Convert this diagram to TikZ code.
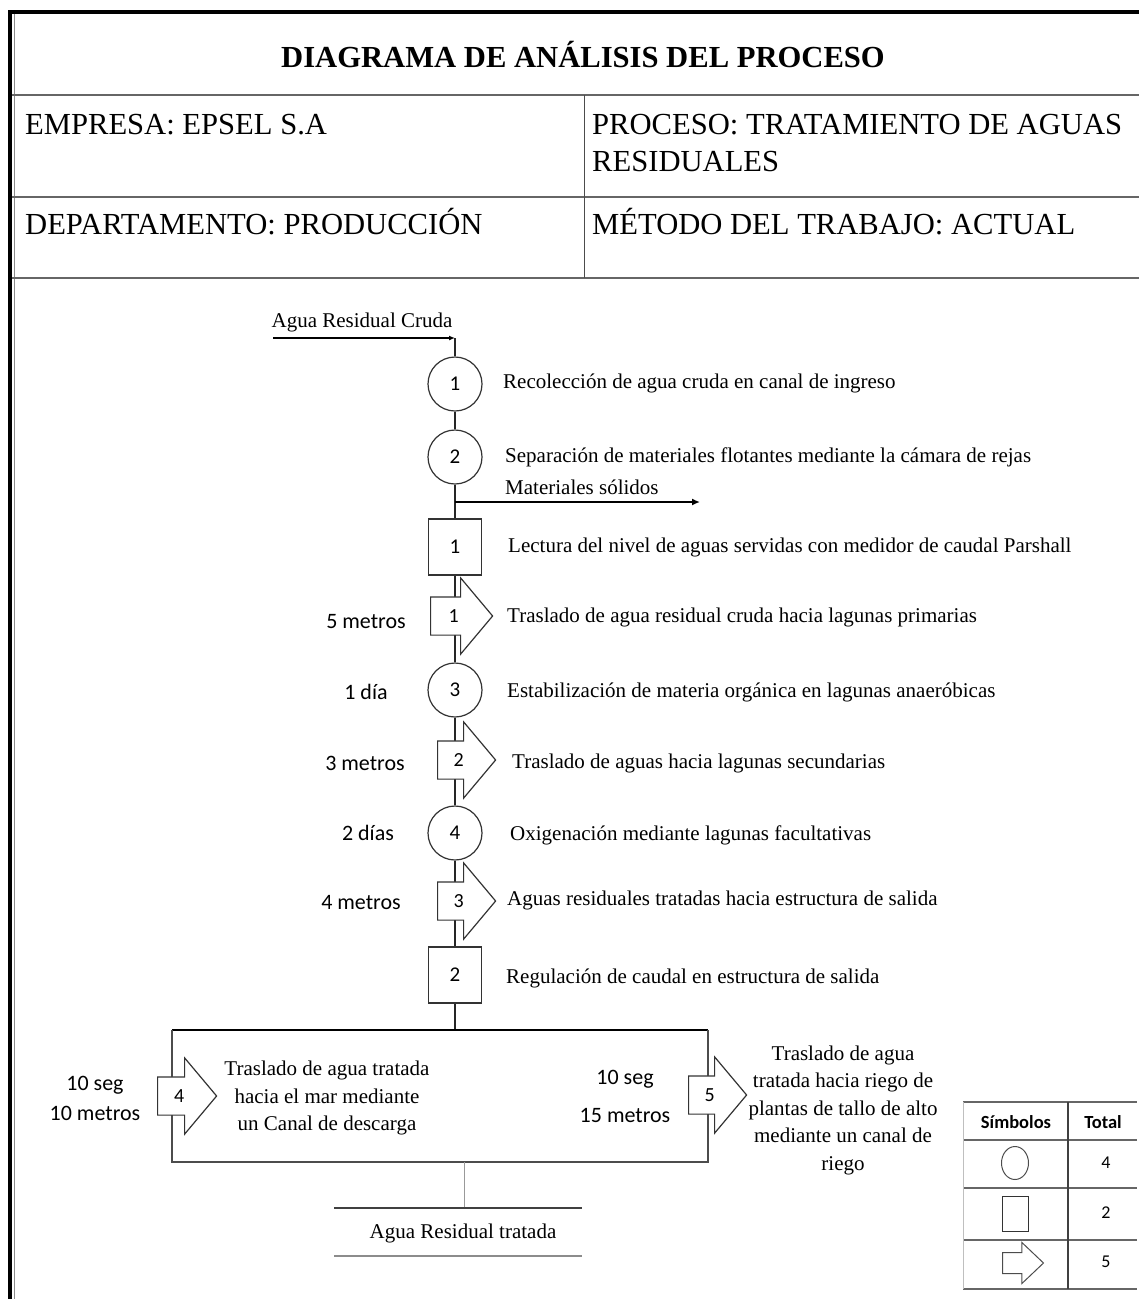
\documentclass[tikz,border=0pt]{standalone}
\usepackage{fontspec}
\setmainfont{Liberation Serif}
\newfontfamily\calfont{Carlito}
\usetikzlibrary{shapes.arrows,shapes.geometric,arrows.meta,backgrounds}

\begin{document}
\begin{tikzpicture}[x=1pt,y=-1pt]
\tikzset{opnode/.style = {circle, draw=black!80, fill=white, line width=1.2pt, minimum size=54pt, inner sep=0pt, font=\calfont\fontsize{21}{24}\selectfont}}
\tikzset{insnode/.style = {rectangle, draw=black!80, fill=white, line width=1.2pt, minimum width=53pt, minimum height=56pt, inner sep=0pt, font=\calfont\fontsize{21}{24}\selectfont}}
\tikzset{trnode/.style = {single arrow, draw=black!80, fill=white, line width=1.2pt, minimum height=58pt, minimum width=75pt, single arrow head extend=19pt, single arrow tip angle=100, inner xsep=0pt, inner ysep=12pt, text height=13pt, text depth=0pt, anchor=tail, font=\calfont\fontsize{20}{24}\selectfont}}
\tikzset{desc/.style = {anchor=west, inner sep=0pt, font=\fontsize{21}{27.5}\selectfont}}
\tikzset{dist/.style = {inner sep=0pt, font=\calfont\fontsize{22}{30}\selectfont}}
\tikzset{hdr/.style = {anchor=west, inner sep=0pt, font=\fontsize{30.6}{37}\selectfont}}
\tikzset{flow/.style = {line width=2pt, black!85}}
\tikzset{tabline/.style = {line width=1.5pt, black!60}}

\useasboundingbox (0,0) rectangle (1139,1299);

% marco y encabezado
\draw[line width=4pt] (10,1299) -- (10,12) -- (1139,12);
\draw[black!45, line width=1pt] (14.5,14) -- (14.5,1299);
\draw[black!60, line width=2pt] (12,95) -- (1139,95);
\draw[black!60, line width=2pt] (12,197) -- (1139,197);
\draw[black!60, line width=2pt] (12,278) -- (1139,278);
\draw[black!70, line width=1pt] (584,95) -- (584,278);

\node[inner sep=0pt, font=\bfseries\fontsize{30.6}{37}\selectfont] (titulo) at (583,55) {DIAGRAMA DE ANÁLISIS DEL PROCESO};
\node[hdr] (empresa) at (25,125) {EMPRESA: EPSEL S.A};
\node[hdr, align=left] (proceso) at (592,143.5) {PROCESO: TRATAMIENTO DE AGUAS\\RESIDUALES};
\node[hdr] (depto) at (25,222) {DEPARTAMENTO: PRODUCCIÓN};
\node[hdr] (metodo) at (592,222) {MÉTODO DEL TRABAJO: ACTUAL};

% entrada
\node[inner sep=0pt, font=\fontsize{21}{24}\selectfont] (ent) at (362,322) {Agua Residual Cruda};
\coordinate (inl) at (273,338);
\coordinate (cor) at (455,338);
\draw[line width=2.5pt, -{Latex[length=6pt,width=5pt]}] (inl) -- (cor);

% simbolos
\node[opnode] (c1) at (455,384) {1};
\node[opnode] (c2) at (455,457) {2};
\node[insnode] (b1) at (455,547) {1};
\node[trnode, minimum height=62pt] (a1) at (430,616) {1};
\node[opnode] (c3) at (455,690) {3};
\node[trnode] (a2) at (437,760) {2};
\node[opnode] (c4) at (455,833) {4};
\node[trnode] (a3) at (437,901) {3};
\node[insnode] (b2) at (455,975) {2};

\begin{pgfonlayer}{background}
\draw[flow] (cor) -- (c1) -- (c2) -- (b1) -- (a1 -| c1) -- (c3) -- (a2 -| c1) -- (c4) -- (a3 -| c1) -- (b2);
\end{pgfonlayer}

% salida de solidos
\coordinate (brs) at (455,502);
\coordinate (bre) at (700,502);
\draw[line width=2.5pt, -{Latex[length=8pt,width=7pt]}] (brs) -- (bre);
\node[desc] (mat) at (505,487) {Materiales sólidos};

% descripciones
\node[desc] (t1) at (503,383) {Recolección de agua cruda en canal de ingreso};
\node[desc] (t2) at (505,457) {Separación de materiales flotantes mediante la cámara de rejas};
\node[desc] (t3) at (508,547) {Lectura del nivel de aguas servidas con medidor de caudal Parshall};
\node[desc] (t4) at (507,617) {Traslado de agua residual cruda hacia lagunas primarias};
\node[desc] (t5) at (507,692) {Estabilización de materia orgánica en lagunas anaeróbicas};
\node[desc] (t6) at (512,763) {Traslado de aguas hacia lagunas secundarias};
\node[desc] (t7) at (510,835) {Oxigenación mediante lagunas facultativas};
\node[desc] (t8) at (507,900) {Aguas residuales tratadas hacia estructura de salida};
\node[desc] (t9) at (506,978) {Regulación de caudal en estructura de salida};

% distancias y tiempos
\node[dist] (d1) at (366,622) {5 metros};
\node[dist] (d2) at (366,692) {1 día};
\node[dist] (d3) at (365,763) {3 metros};
\node[dist] (d4) at (368,833) {2 días};
\node[dist] (d5) at (361,903) {4 metros};

% bifurcacion final
\coordinate (jn) at (455,1030);
\coordinate (jl) at (172,1030);
\coordinate (jr) at (708,1030);
\coordinate (bl) at (172,1162);
\coordinate (br) at (708,1162);
\draw[flow] (b2) -- (jn);
\draw[line width=2.5pt] (jl) -- (jr);
\draw[black!70, line width=1.5pt] (jl) -- (bl) -- (br) -- (jr);

\node[trnode, minimum height=59pt] (a4) at (157,1096) {4};
\node[trnode] (a5) at (688,1095) {5};

\node[dist, align=center, font=\calfont\fontsize{22}{30}\selectfont] (d6) at (95,1098) {10 seg\\10 metros};
\node[dist, align=center, font=\calfont\fontsize{22}{38}\selectfont] (d7) at (625,1096) {10 seg\\15 metros};
\node[desc, anchor=center, align=center] (t10) at (327,1098) {Traslado de agua tratada\\hacia el mar mediante\\un Canal de descarga};
\node[desc, anchor=center, align=center] (t11) at (843,1110) {Traslado de agua\\tratada hacia riego de\\plantas de tallo de alto\\mediante un canal de\\riego};

% agua tratada
\coordinate (ex) at (464,1162);
\coordinate (ex2) at (464,1208);
\draw[black!40, line width=1pt] (ex) -- (ex2);
\draw[black!75, line width=2pt] (334,1208) -- (582,1208);
\draw[black!45, line width=2pt] (334,1256) -- (582,1256);
\node[desc, anchor=center] (out) at (463,1233) {Agua Residual tratada};

% tabla de resumen
\foreach \yy in {1102,1140,1188,1240,1289}
  \draw[tabline] (963,\yy) -- (1137,\yy);
\draw[black!25, line width=1pt] (963,1102) -- (963,1289);
\draw[black!75, line width=1.5pt] (1068,1102) -- (1068,1289);

\node[font=\calfont\bfseries\fontsize{18.5}{22}\selectfont] (hs) at (1016,1122) {Símbolos};
\node[font=\calfont\bfseries\fontsize{18.5}{22}\selectfont] (ht) at (1103,1122) {Total};
\node[ellipse, draw=black!70, line width=1pt, minimum width=27pt, minimum height=33pt, inner sep=0pt] (sc) at (1015,1163) {};
\node[rectangle, draw=black!80, line width=1pt, minimum width=26pt, minimum height=35pt, inner sep=0pt] (sb) at (1015,1214) {};
\node[single arrow, draw=black!70, line width=1pt, minimum height=41pt, minimum width=40pt, single arrow head extend=10pt, single arrow tip angle=87, inner xsep=0pt, inner ysep=10pt, text height=0pt, text depth=0pt, anchor=tail] (sa) at (1002,1263) {};
\node[font=\calfont\fontsize{18}{22}\selectfont] (n1) at (1106,1163) {4};
\node[font=\calfont\fontsize{18}{22}\selectfont] (n2) at (1106,1213) {2};
\node[font=\calfont\fontsize{18}{22}\selectfont] (n3) at (1106,1262) {5};
\end{tikzpicture}
\end{document}
